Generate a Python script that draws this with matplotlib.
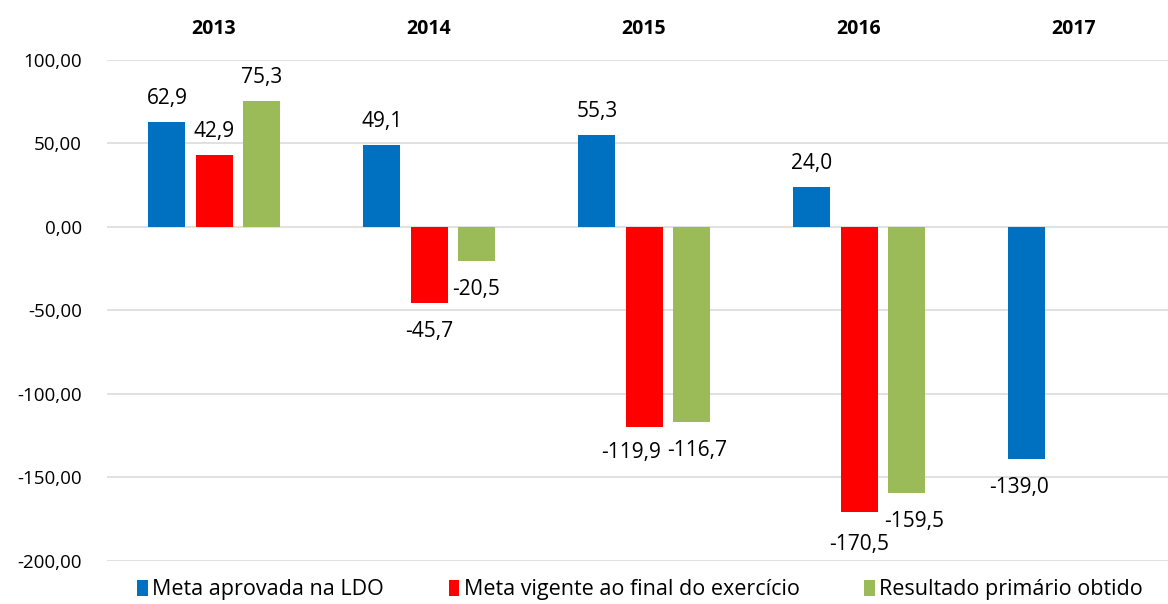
import numpy as np
import matplotlib.pyplot as plt
from matplotlib.ticker import FuncFormatter

anos = ['2013', '2014', '2015', '2016', '2017']
meta_ldo = [62.9, 49.1, 55.3, 24.0, -139.0]
meta_vigente = [42.9, -45.7, -119.9, -170.5, np.nan]
resultado = [75.3, -20.5, -116.7, -159.5, np.nan]

series = [
    ('Meta aprovada na LDO', meta_ldo, '#0070C0'),
    ('Meta vigente ao final do exercício', meta_vigente, '#FF0000'),
    ('Resultado primário obtido', resultado, '#9BBB59'),
]

# pequenos ajustes dos rótulos (serie, ano) -> deslocamento em pontos
ajustes = {(1, 2): (-9, 2), (2, 2): (4, 0), (1, 3): (0, -3), (2, 3): (6, 0), (0, 4): (-6, 0)}

plt.rcParams['font.family'] = ['Open Sans', 'DejaVu Sans']

fig = plt.figure(figsize=(11.68, 6.04), dpi=100)
ax = fig.add_axes([0.0916, 0.0712, 0.9084, 0.8295])

x = np.arange(len(anos))
largura = 0.172
passo = 0.219

for i, (nome, vals, cor) in enumerate(series):
    pos = x + (i - 1) * passo
    vals = np.array(vals, dtype=float)
    idx = np.where(~np.isnan(vals))[0]
    barras = ax.bar(pos[idx], vals[idx], width=largura, color=cor, label=nome, zorder=3)
    for b, j in zip(barras, idx):
        v = vals[j]
        txt = f'{v:.1f}'.replace('.', ',')
        dx, dy = ajustes.get((i, j), (0, 0))
        oy = 13 if v >= 0 else -24.5
        ax.annotate(txt, (b.get_x() + b.get_width() / 2, v), xytext=(dx, oy + dy),
                    textcoords='offset points', ha='center', va='baseline', fontsize=15)

ax.set_ylim(-200, 100)
ax.set_yticks(np.arange(-200, 101, 50))
ax.yaxis.set_major_formatter(FuncFormatter(lambda v, p: f'{v:.2f}'.replace('.', ',')))
ax.set_xlim(-0.498, 4.437)
ax.grid(axis='y', color='#D9D9D9', linewidth=1.1, zorder=0)
ax.tick_params(axis='y', length=0, labelsize=13.5, pad=18)
for s in ax.spines.values():
    s.set_visible(False)

ax.xaxis.tick_top()
ax.set_xticks(x)
ax.set_xticklabels(anos, fontweight='bold', fontsize=14)
ax.tick_params(axis='x', length=0, pad=15)

fig.legend(loc='center', bbox_to_anchor=(0.548, 14 / 604), ncol=3, frameon=False,
           fontsize=15.5, handlelength=0.5, handleheight=0.7, handletextpad=0.2,
           columnspacing=3.0, borderaxespad=0, borderpad=0)

fig.savefig('out.png', dpi=100)
